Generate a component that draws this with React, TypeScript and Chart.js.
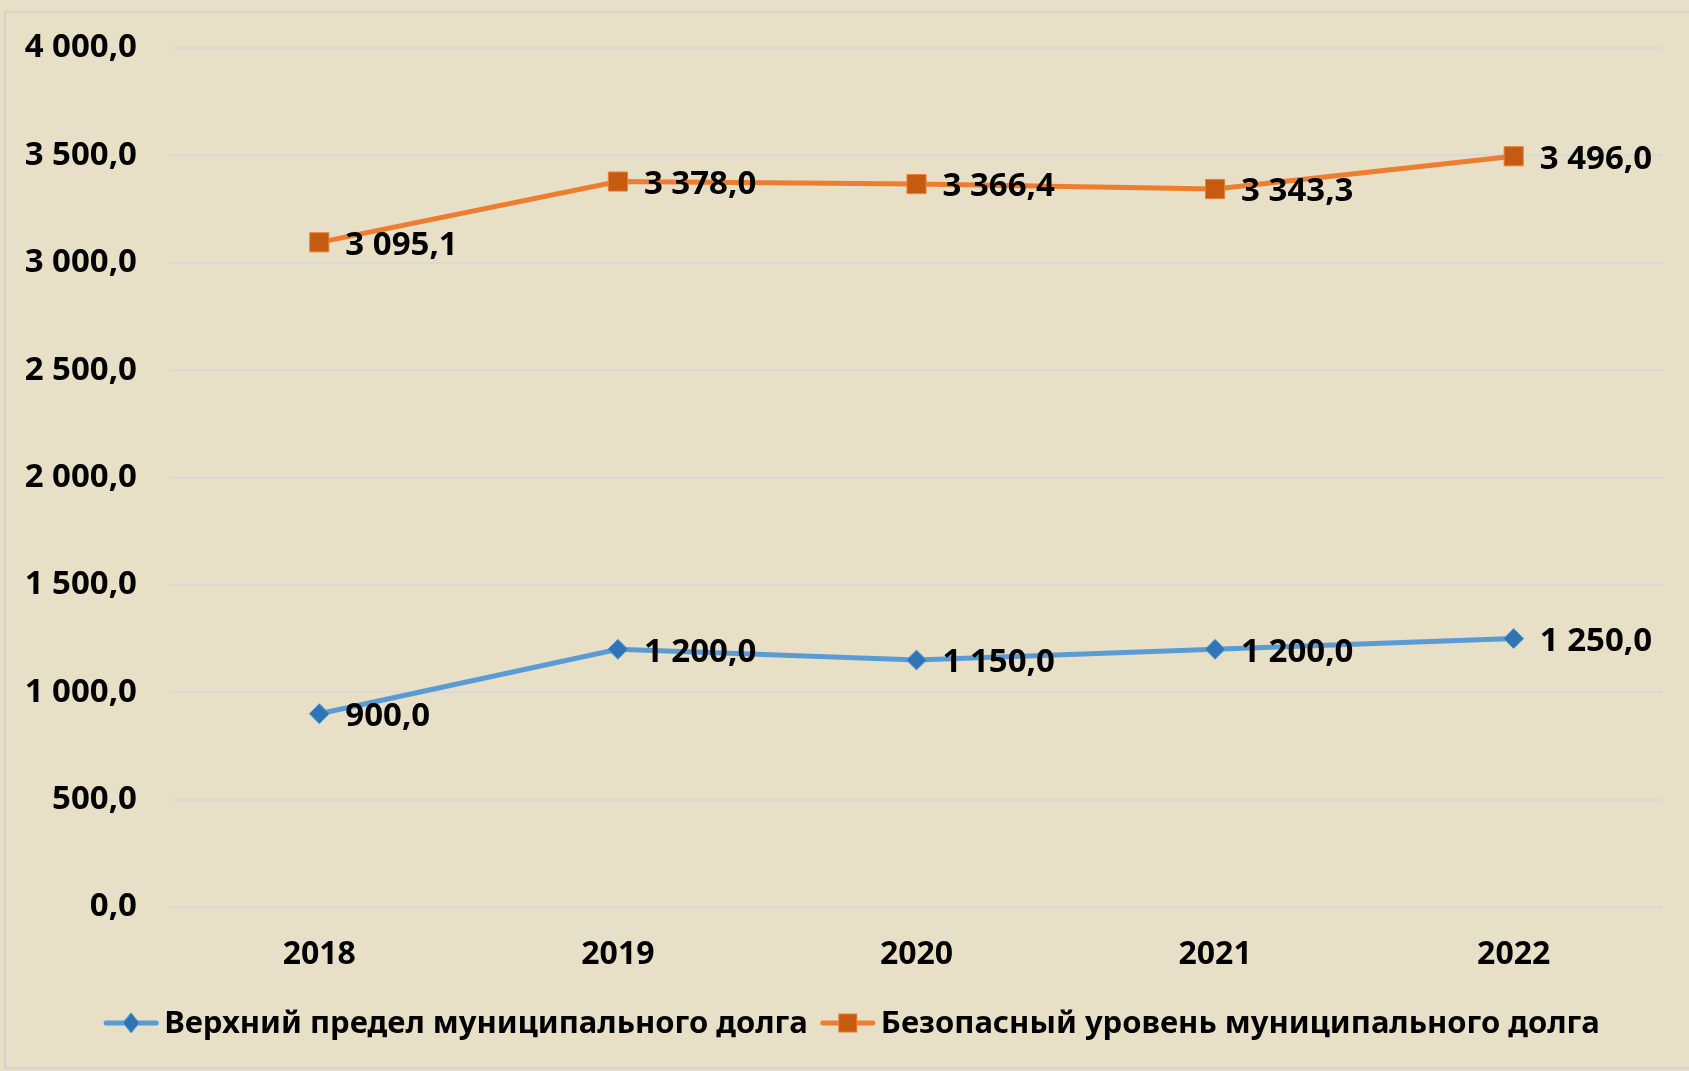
import React, { useEffect, useRef } from "react";
import { Chart, registerables } from "chart.js";

Chart.register(...registerables);

const categories = ["2018", "2019", "2020", "2021", "2022"];
const upperLimit = [900.0, 1200.0, 1150.0, 1200.0, 1250.0];
const safeLevel = [3095.1, 3378.0, 3366.4, 3343.3, 3496.0];
const seriesNames = [
  "Верхний предел муниципального долга",
  "Безопасный уровень муниципального долга",
];
const yMin = 0;
const yMax = 4000;
const yStep = 500;

const FONT = "'Noto Sans', sans-serif";
const BG = "#E7DFC6";

function fmt(v: number): string {
  const fixed = v.toFixed(1);
  const [intPart, dec] = fixed.split(".");
  const withSpaces = intPart.replace(/\B(?=(\d{3})+(?!\d))/g, " ");
  return withSpaces + "," + dec;
}

const bgPlugin = {
  id: "bgFrame",
  beforeDraw(chart: any) {
    const { ctx, width, height } = chart;
    ctx.save();
    ctx.fillStyle = BG;
    ctx.fillRect(0, 0, width, height);
    ctx.strokeStyle = "#D6D3CC";
    ctx.lineWidth = 2;
    ctx.strokeRect(5, 12, width + 20, height - 15);
    ctx.restore();
  },
};

const labelPlugin = {
  id: "valueLabels",
  afterDatasetsDraw(chart: any) {
    const { ctx } = chart;
    ctx.save();
    ctx.font = `bold 33px ${FONT}`;
    ctx.fillStyle = "#000";
    ctx.textAlign = "left";
    ctx.textBaseline = "middle";
    chart.data.datasets.forEach((ds: any, di: number) => {
      const meta = chart.getDatasetMeta(di);
      meta.data.forEach((pt: any, i: number) => {
        ctx.fillText(fmt(ds.data[i]), pt.x + 26, pt.y + 3);
      });
    });
    ctx.restore();
  },
};

function drawIcon(ctx: any, x: number, y: number, ds: any) {
  ctx.save();
  ctx.strokeStyle = ds.borderColor;
  ctx.lineWidth = 5;
  ctx.lineCap = "round";
  ctx.beginPath();
  ctx.moveTo(x + 2, y);
  ctx.lineTo(x + 52, y);
  ctx.stroke();
  ctx.fillStyle = ds.pointBackgroundColor;
  ctx.strokeStyle = ds.pointBorderColor;
  ctx.lineWidth = 1;
  const cx = x + 27;
  if (ds.pointStyle === "rectRot") {
    ctx.beginPath();
    ctx.moveTo(cx, y - 10);
    ctx.lineTo(cx + 8, y);
    ctx.lineTo(cx, y + 10);
    ctx.lineTo(cx - 8, y);
    ctx.closePath();
    ctx.fill();
    ctx.stroke();
  } else {
    ctx.fillRect(cx - 9, y - 9, 18, 18);
    ctx.strokeRect(cx - 9, y - 9, 18, 18);
  }
  ctx.restore();
}

const legendPlugin = {
  id: "customLegend",
  afterDraw(chart: any) {
    const { ctx } = chart;
    ctx.save();
    ctx.font = `bold 31px ${FONT}`;
    ctx.textBaseline = "middle";
    ctx.textAlign = "left";
    ctx.fillStyle = "#000";
    const ds = chart.data.datasets;
    const iconW = 54;
    const gapIconText = 6;
    const gapItems = 13;
    const widths = ds.map((d: any) => ctx.measureText(d.label).width);
    const total = ds.length * (iconW + gapIconText) + widths.reduce((a: number, b: number) => a + b, 0) + gapItems * (ds.length - 1);
    let x = 852 - total / 2;
    const y = 1023;
    ds.forEach((d: any, i: number) => {
      drawIcon(ctx, x, y, d);
      x += iconW + gapIconText;
      ctx.fillText(d.label, x, y + 1);
      x += widths[i] + gapItems;
    });
    ctx.restore();
  },
};

export default function App() {
  const ref = useRef<HTMLCanvasElement | null>(null);
  useEffect(() => {
    document.body.style.margin = "0";
    if (!ref.current) return;
    const chart = new Chart(ref.current, {
      type: "line",
      data: {
        labels: categories,
        datasets: [
          {
            label: seriesNames[0],
            data: upperLimit,
            borderColor: "#5B9BD5",
            borderWidth: 5,
            pointStyle: "rectRot",
            pointRadius: 10,
            pointBackgroundColor: "#2E75B6",
            pointBorderColor: "#5B9BD5",
            pointBorderWidth: 1,
            tension: 0,
          },
          {
            label: seriesNames[1],
            data: safeLevel,
            borderColor: "#ED7D31",
            borderWidth: 5,
            pointStyle: "rect",
            pointRadius: 13.5,
            pointBackgroundColor: "#C55A11",
            pointBorderColor: "#ED7D31",
            pointBorderWidth: 1,
            tension: 0,
          },
        ],
      },
      options: {
        animation: false,
        responsive: true,
        maintainAspectRatio: false,
        layout: { padding: { top: 48, right: 26, bottom: 64, left: 0 } },
        plugins: {
          legend: { display: false },
          tooltip: { enabled: false },
        },
        scales: {
          x: {
            offset: true,
            grid: { display: false, drawTicks: false },
            border: { display: false },
            ticks: {
              color: "#000",
              font: { family: FONT, size: 32, weight: "bold" },
              padding: 29,
            },
            afterFit(scale: any) {
              scale.height = 100;
            },
          },
          y: {
            min: yMin,
            max: yMax,
            grid: { color: "#D9D9D9", lineWidth: 2, drawTicks: false },
            border: { display: false },
            ticks: {
              stepSize: yStep,
              color: "#000",
              font: { family: FONT, size: 33, weight: "bold" },
              padding: 33,
              callback: (v: any) => fmt(Number(v)),
            },
            afterFit(scale: any) {
              scale.width = 170;
              scale.paddingTop = 20;
              scale.paddingBottom = 20;
            },
          },
        },
      },
      plugins: [bgPlugin, labelPlugin, legendPlugin],
    });
    return () => chart.destroy();
  }, []);
  return (
    <div style={{ width: 1689, height: 1071, position: "relative" }}>
      <canvas ref={ref} />
    </div>
  );
}
